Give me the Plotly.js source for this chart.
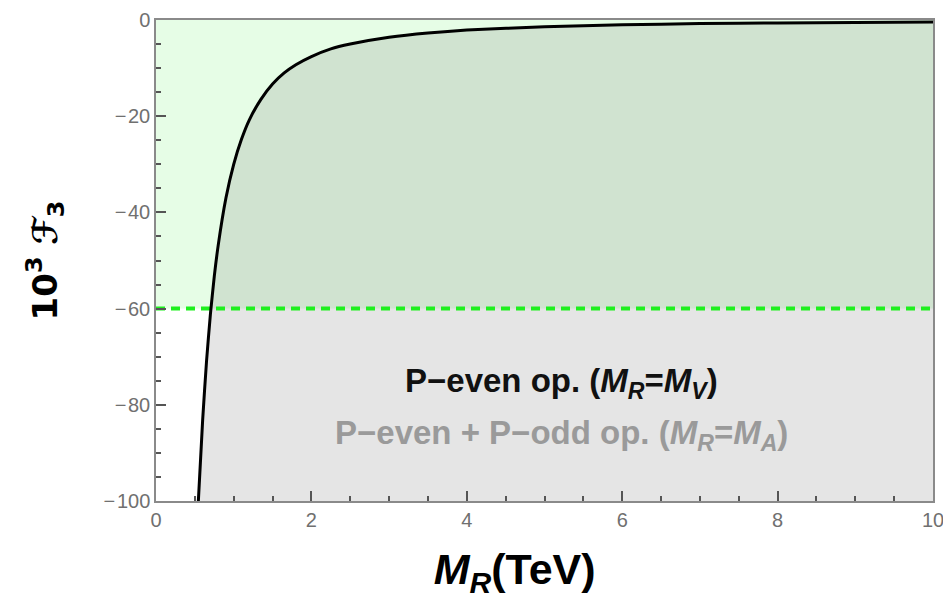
<!DOCTYPE html>
<html>
<head>
<meta charset="utf-8">
<script src="https://cdn.plot.ly/plotly-3.0.1.min.js"></script>
<style>html,body{margin:0;padding:0;background:#fff;}#plot{width:943px;height:606px;}</style>
</head>
<body>
<div id="plot"></div>
<script>
// M_R in TeV
const mR = [0.545,0.6,0.65,0.7,0.75,0.8,0.9,1.0,1.1,1.2,1.35,1.5,1.65,1.8,2.0,2.25,2.5,3,3.5,4,5,6,7,8,9,10];
// 10^3 F3
const F3 = [-100,-83.3,-71,-61.2,-53.3,-46.9,-37,-30,-24.8,-20.8,-16.5,-13.3,-11,-9.3,-7.6,-6.0,-5.0,-3.6,-2.7,-2.1,-1.4,-1.0,-0.75,-0.6,-0.5,-0.4];
// bound
const boundX = [0,10];
const boundY = [-60,-60];
const topY = [0,0];
const yMin = -100;
const xTicks = [0,2,4,6,8,10];
const yTicks = [0,-20,-40,-60,-80,-100];
const yTickText = ['0','\u2212\u200a20','\u2212\u200a40','\u2212\u200a60','\u2212\u200a80','\u2212\u200a100'];

const polyX = mR.concat([mR[mR.length-1], mR[0]]);
const polyY = F3.concat([yMin, yMin]);

const traces = [
  {x: boundX, y: topY, mode:'lines', line:{width:0}, hoverinfo:'skip', showlegend:false},
  {x: boundX, y: boundY, mode:'lines', fill:'tonexty', fillcolor:'rgb(230,253,230)', line:{width:0}, hoverinfo:'skip', showlegend:false},
  {x: polyX, y: polyY, mode:'lines', fill:'toself', fillcolor:'rgba(92,92,92,0.16)', line:{width:0}, hoverinfo:'skip', showlegend:false},
  {x: boundX, y: boundY, mode:'lines', line:{color:'rgb(30,240,30)', width:4, dash:'9px,6px'}, showlegend:false},
  {x: mR, y: F3, mode:'lines', line:{color:'#000', width:3, shape:'spline', smoothing:0.5}, showlegend:false}
];

const tickFont = {family:'Liberation Sans, Arial, sans-serif', size:20, color:'#707070'};

const layout = {
  width:943, height:606,
  margin:{l:156, r:10, t:20, b:105},
  paper_bgcolor:'#fff', plot_bgcolor:'#fff',
  showlegend:false,
  xaxis: {
    range:[0,10], tickmode:'array', tickvals:xTicks, ticktext:xTicks.map(String),
    showgrid:false, zeroline:false, showline:true, linecolor:'#8a8a8a', linewidth:1.5,
    mirror:true, ticks:'inside', ticklen:10, tickwidth:2, tickcolor:'#555',
    tickfont:tickFont, ticklabeloverflow:'allow',
    minor:{dtick:0.5, ticks:'inside', ticklen:5, tickcolor:'#555', tickwidth:1.5},
    title:{text:'<b><i>M</i><sub><i>R</i></sub>(TeV)</b>&nbsp;&nbsp;&nbsp;&nbsp;&nbsp;', standoff:24,
      font:{family:'Liberation Sans, Arial, sans-serif', size:43, color:'#000'}}
  },
  yaxis: {
    range:[-100,0], tickmode:'array', tickvals:yTicks, ticktext:yTickText,
    showgrid:false, zeroline:false, showline:true, linecolor:'#8a8a8a', linewidth:1.5,
    mirror:true, ticks:'inside', ticklen:10, tickwidth:2, tickcolor:'#555',
    tickfont:tickFont,
    minor:{dtick:5, ticks:'inside', ticklen:5, tickcolor:'#555', tickwidth:1.5},
    title:{text:'<b>10<sup>3</sup> <i>\u2131</i><sub>3</sub></b>', standoff:36,
      font:{family:'DejaVu Sans, Liberation Sans, sans-serif', size:34, color:'#000'}}
  },
  annotations:[
    {x:5.22, y:-75.5, xref:'x', yref:'y', showarrow:false,
     text:'<b>P\u2212even op. (<i>M</i><sub><i>R</i></sub>=<i>M</i><sub><i>V</i></sub>)</b>',
     font:{family:'Liberation Sans, Arial, sans-serif', size:33, color:'#111'}},
    {x:5.22, y:-86.3, xref:'x', yref:'y', showarrow:false,
     text:'<b>P\u2212even + P\u2212odd op. (<i>M</i><sub><i>R</i></sub>=<i>M</i><sub><i>A</i></sub>)</b>',
     font:{family:'Liberation Sans, Arial, sans-serif', size:33, color:'#9a9a9a'}},
    {x:1.0, y:1.022, xref:'paper', yref:'paper', xanchor:'right', yanchor:'bottom', showarrow:false,
     text:'<i>HFSC 3.7</i>', font:{family:'DejaVu Sans, sans-serif', size:28, color:'#e07a10'}}
  ]
};

Plotly.newPlot('plot', traces, layout, {displayModeBar:false});
</script>
</body>
</html>
